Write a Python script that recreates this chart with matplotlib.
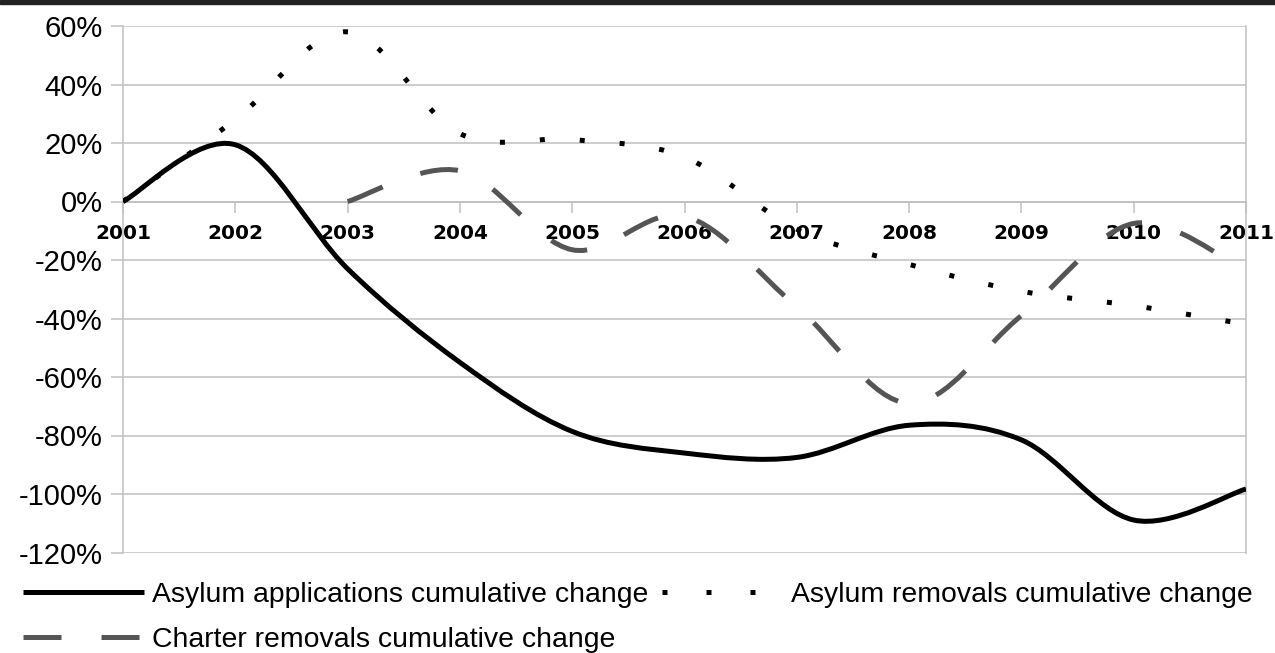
import numpy as np
import matplotlib
matplotlib.use('Agg')
import matplotlib.pyplot as plt
from matplotlib.path import Path
from matplotlib.patches import PathPatch, Rectangle
from matplotlib.lines import Line2D

OUTPUT = 'out.png'

years = [2001, 2002, 2003, 2004, 2005, 2006, 2007, 2008, 2009, 2010, 2011]
asylum_applications = [0.0, 0.194, -0.23, -0.55, -0.786, -0.86, -0.875, -0.765, -0.815, -1.089, -0.983]
asylum_removals = [0.0, 0.28, 0.58, 0.232, 0.212, 0.152, -0.095, -0.215, -0.307, -0.356, -0.42]
charter_removals = [np.nan, np.nan, 0.0, 0.105, -0.165, -0.05, -0.36, -0.69, -0.39, -0.075, -0.237]

ytick_values = [0.6, 0.4, 0.2, 0.0, -0.2, -0.4, -0.6, -0.8, -1.0, -1.2]
ytick_labels = ['60%', '40%', '20%', '0%', '-20%', '-40%', '-60%', '-80%', '-100%', '-120%']

labels = ['Asylum applications cumulative change',
          'Asylum removals cumulative change',
          'Charter removals cumulative change']

GRID = '#bfbfbf'
DARK = '#555555'
PX = 0.72  # points per pixel at dpi 100

plt.rcParams['lines.scale_dashes'] = False
plt.rcParams['font.family'] = ['Liberation Sans', 'DejaVu Sans']


def smooth_path(xs, ys):
    # Excel-style smoothed line: cubic Bezier segments, Catmull-Rom tangents
    pts = np.array([(x, y) for x, y in zip(xs, ys) if not np.isnan(y)], dtype=float)
    n = len(pts)
    verts = [pts[0]]
    codes = [Path.MOVETO]
    for i in range(n - 1):
        p_prev = pts[i - 1] if i > 0 else pts[i]
        p_next2 = pts[i + 2] if i + 2 < n else pts[i + 1]
        c1 = pts[i] + (pts[i + 1] - p_prev) / 6.0
        c2 = pts[i + 1] - (p_next2 - pts[i]) / 6.0
        verts += [c1, c2, pts[i + 1]]
        codes += [Path.CURVE4] * 3
    return Path(verts, codes)


fig = plt.figure(figsize=(12.75, 6.53), dpi=100)
ax = fig.add_axes([123 / 1275, 1 - 552.5 / 653, (1246 - 123) / 1275, (552.5 - 26) / 653])

solid_style = dict(color='black', linewidth=5 * PX, linestyle='-')
dot_style = dict(color='black', linewidth=5 * PX, linestyle=(0, (5 * PX, 35 * PX)))
dash_style = dict(color=DARK, linewidth=5 * PX, linestyle=(0, (38 * PX, 40 * PX)))

for ys, style in [(asylum_applications, solid_style),
                  (asylum_removals, dot_style),
                  (charter_removals, dash_style)]:
    patch = PathPatch(smooth_path(years, ys), fill=False, edgecolor=style['color'],
                      linewidth=style['linewidth'], linestyle=style['linestyle'],
                      capstyle='butt', joinstyle='round', zorder=3)
    ax.add_patch(patch)

ax.set_xlim(years[0], years[-1])
ax.set_ylim(-1.2, 0.6)

# spine position first: moving it resets the tick objects
ax.spines['top'].set_visible(False)
for side in ['left', 'right', 'bottom']:
    ax.spines[side].set_color(GRID)
    ax.spines[side].set_linewidth(1.5 * PX)
ax.spines['bottom'].set_position(('data', 0))

ax.tick_params(axis='y', length=12 * PX, width=1.5 * PX, color=GRID,
               labelsize=21, pad=6)
ax.tick_params(axis='x', direction='out', length=11 * PX, width=1.5 * PX,
               color=GRID, pad=8, labelsize=14.5)
ax.set_yticks(ytick_values)
ax.set_yticklabels(ytick_labels)
ax.set_xticks(years)
ax.set_xticklabels([str(y) for y in years], fontfamily='DejaVu Sans',
                   fontweight='bold', fontsize=14.5)

ax.grid(axis='y', color=GRID, linewidth=1.5 * PX)

handles = [Line2D([], [], solid_capstyle='butt', dash_capstyle='butt', **solid_style),
           Line2D([], [], dash_capstyle='butt', **dash_style),
           Line2D([], [], dash_capstyle='butt', color='black', linewidth=5 * PX,
                  linestyle=(0, (5 * PX, 39 * PX)))]
fig.legend(handles, [labels[0], labels[2], labels[1]], ncol=2,
           loc='upper left', bbox_to_anchor=(23 / 1275, 1 - 582 / 653),
           frameon=False, borderpad=0, borderaxespad=0, fontsize=20.4,
           handlelength=121 * PX / 20.4, handletextpad=0.3, columnspacing=0.45,
           labelspacing=0.68)

fig.add_artist(Rectangle((0, 1 - 4 / 653), 1, 4 / 653, transform=fig.transFigure,
                         color='#222222', zorder=5))

fig.savefig(OUTPUT, dpi=100)
